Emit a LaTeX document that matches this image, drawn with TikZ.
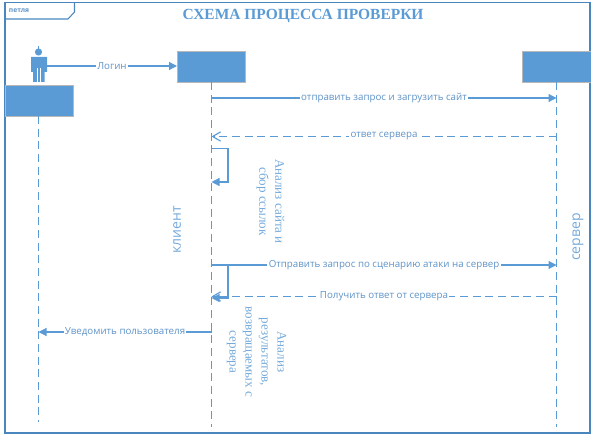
\documentclass[tikz,border=0pt]{standalone}
\usepackage{fontspec}
\setmainfont{Liberation Serif}
\setsansfont{Open Sans}
\usetikzlibrary{arrows.meta}
\definecolor{bl}{HTML}{5B9BD5}
\definecolor{fr}{HTML}{4A86BE}
\definecolor{tx}{HTML}{5F94C8}
\tikzset{
  x=0.75pt,y=-0.75pt,
  headbox/.style={fill=bl,draw=black!28,line width=0.6pt,minimum width=51pt,minimum height=23.2pt,inner sep=0pt,anchor=north west},
  lifeline/.style={draw=bl,line width=0.85pt,dash pattern=on 6pt off 3.5pt},
  msg/.style={draw=bl,line width=0.85pt,-{Triangle[length=6pt,width=6pt]}},
  ret/.style={draw=bl,line width=0.85pt,dash pattern=on 6pt off 3.5pt,-{Straight Barb[length=6pt,width=7pt]}},
  selfl/.style={draw=bl,line width=0.85pt,-{Triangle[length=6pt,width=6pt]}},
  lab/.style={font=\sffamily\fontsize{7.3}{9}\selectfont,text=tx,fill=white,inner sep=1pt},
  vlab/.style={font=\fontsize{9.8}{12}\selectfont,text=bl!85,align=center,inner sep=0pt,rotate=-90},
  side/.style={font=\sffamily\fontsize{10.5}{12}\selectfont,text=bl!85,inner sep=0pt},
}
\begin{document}
\begin{tikzpicture}
\useasboundingbox (0,0) rectangle (591,438);
\draw[fr,line width=0.8pt] (5,2.5) rectangle (590,433);
\draw[fr,line width=0.8pt] (74.5,2.5) -- (74.5,12) -- (68,19) -- (5,19);
\node[font=\sffamily\bfseries\fontsize{5}{6}\selectfont,text=fr!90,inner sep=0pt] (frametitle) at (19,10.5) {петля};
\node[font=\bfseries\fontsize{11.6}{14}\selectfont,text=bl,inner sep=0pt] (title) at (303,16.5) {СХЕМА ПРОЦЕССА ПРОВЕРКИ};
% head boxes
\node[headbox] (user) at (5,85.5) {};
\node[headbox] (client) at (177,51) {};
\fill[bl] (522,51) rectangle (591,82);
\draw[black!28,line width=0.6pt] (591,51) -- (522,51) -- (522,82) -- (591,82);
\coordinate (serverb) at (556.5,82);
% actor
\fill[bl] (38.5,52) circle (3.6);
\fill[bl] (37.8,46.5) rectangle (39.2,49);
\fill[bl] (31,57) -- (47,57) -- (47,72) -- (44.5,72) -- (44.5,82) -- (33,82) -- (33,72) -- (31,72) -- cycle;
\draw[white,line width=0.3pt] (37.5,68) -- (37.5,82) (40,68) -- (40,82);
\coordinate (actor) at (47,66);
% lifelines
\coordinate (userend) at (38.5,422);
\coordinate (clientend) at (211.5,427);
\coordinate (serverend) at (556.5,427);
\draw[lifeline] (38.5,116) -- (userend);
\draw[lifeline] (211.5,82) -- (clientend);
\draw[lifeline] (serverb) -- (serverend);
% messages
\coordinate (c1) at (211.5,98); \coordinate (s1) at (556.5,98);
\coordinate (c2) at (211.5,136.5); \coordinate (s2) at (556.5,136.5);
\coordinate (c3) at (211.5,265); \coordinate (s3) at (556.5,265);
\coordinate (c4) at (211.5,296.5); \coordinate (s4) at (556.5,296.5);
\coordinate (c5) at (211.5,332); \coordinate (u5) at (38.5,332);
\draw[msg] (actor) -- node[lab] {Логин} (client.west |- actor);
\draw[msg] (c1) -- node[lab,xshift=0pt] {отправить запрос и загрузить сайт} (s1);
\draw[ret] (s2) -- node[lab] {ответ сервера} (c2);
\draw[selfl] (211.5,148.5) -- (228,148.5) -- (228,182) -- (211.5,182);
\draw[msg] (c3) -- node[lab] {Отправить запрос по сценарию атаки на сервер} (s3);
\draw[ret] (s4) -- node[lab] {Получить ответ от сервера} (c4);
\draw[selfl] (211.5,265) -- (228,265) -- (228,298) -- (211.5,298);
\draw[msg] (c5) -- node[lab] {Уведомить пользователя} (u5);
% side labels
\node[vlab] (a1) at (270.5,201.5) {Анализ сайта и\\сбор ссылок};
\node[vlab] (a2) at (256.5,352) {Анализ\\результатов,\\возвращаемых с\\сервера};
\node[side,rotate=90] (klient) at (177,230) {клиент};
\node[side,rotate=90] (server) at (578,237) {сервер};
\end{tikzpicture}
\end{document}
